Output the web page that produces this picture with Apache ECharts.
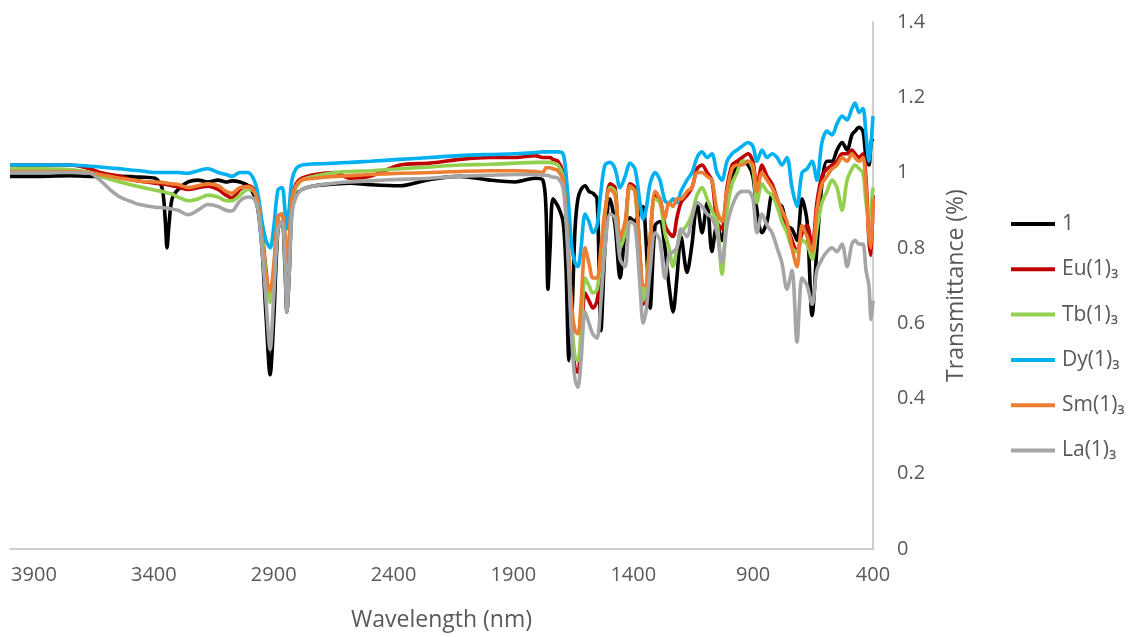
<!DOCTYPE html>
<html>
<head>
<meta charset="utf-8">
<script src="https://cdn.jsdelivr.net/npm/echarts@6/dist/echarts.min.js"></script>
<style>html,body{margin:0;padding:0;background:#fff}#c{width:1136px;height:637px}</style>
</head>
<body>
<div id="c"></div>
<script>
const wavenumbers = [4000,3875,3750,3666,3625,3583,3541,3487,3458,3395,3366,3353,3345,3337,3324,3299,3257,3216,3174,3132,3099,3074,3041,3007,2982,2965,2949,2932,2915,2899,2882,2865,2853,2845,2836,2824,2807,2782,2728,2644,2582,2498,2373,2248,2123,1998,1893,1810,1777,
1764,1756,1747,1735,1714,1693,1681,1668,1656,1643,1631,1618,1601,1585,1568,1551,1535,1518,1497,1476,1455,1434,1414,1393,1372,1359,1347,1330,1309,1289,1268,1251,1234,1218,1201,1176,1155,1134,1113,1092,1072,1051,1030,1009,988,967,946,921,901,884,863,842,821,800,780,759,738,717,696,675,654,634,613,592,571,550,529,508,488,475,458,442,429,417,408,400];

const ligand = [0.99,0.99,0.992,0.99,0.99,0.99,0.99,0.989,0.988,0.985,0.96,0.88,0.80,0.86,0.93,0.955,0.975,0.98,0.975,0.98,0.975,0.978,0.975,0.965,0.94,0.90,0.80,0.62,0.463,0.62,0.85,0.87,0.75,0.63,0.72,0.90,0.94,0.955,0.965,0.97,0.972,0.968,0.965,0.982,0.99,0.98,0.975,0.985,0.98,
0.90,0.69,0.80,0.93,0.91,0.87,0.75,0.50,0.62,0.85,0.93,0.955,0.965,0.95,0.945,0.93,0.58,0.80,0.93,0.86,0.72,0.84,0.88,0.87,0.90,0.91,0.82,0.64,0.86,0.87,0.80,0.70,0.63,0.72,0.83,0.735,0.81,0.92,0.84,0.92,0.79,0.86,0.82,0.92,0.98,1.02,1.03,1.02,0.99,0.90,0.84,0.87,0.94,0.92,0.91,0.86,0.85,0.82,0.93,0.87,0.62,0.80,0.97,1.03,1.03,1.06,1.08,1.06,1.10,1.11,1.12,1.11,1.04,1.02,1.08,1.09];

const eu = [1.02,1.02,1.02,1.01,1.0,0.995,0.99,0.98,0.977,0.972,0.97,0.969,0.968,0.967,0.965,0.962,0.955,0.96,0.964,0.955,0.94,0.933,0.955,0.965,0.955,0.93,0.85,0.74,0.66,0.74,0.88,0.89,0.82,0.74,0.80,0.93,0.97,0.985,0.995,1.0,0.985,0.99,1.02,1.025,1.035,1.04,1.04,1.045,1.04,
1.04,1.04,1.04,1.035,1.03,1.0,0.92,0.75,0.58,0.48,0.47,0.55,0.68,0.66,0.64,0.66,0.75,0.88,0.97,0.96,0.80,0.85,0.97,0.96,0.78,0.65,0.68,0.82,0.94,0.93,0.86,0.84,0.83,0.88,0.92,0.94,0.96,1.01,1.02,1.0,0.98,0.87,0.85,0.96,1.02,1.03,1.04,1.05,1.03,0.96,1.02,0.99,0.97,0.93,0.89,0.86,0.82,0.79,0.84,0.86,0.80,0.92,0.99,1.01,1.02,1.03,1.05,1.05,1.06,1.05,1.04,1.05,0.98,0.82,0.78,0.94];

const tb = [1.01,1.01,1.008,1.0,0.99,0.982,0.975,0.966,0.962,0.953,0.95,0.948,0.946,0.945,0.943,0.935,0.925,0.93,0.94,0.935,0.925,0.925,0.94,0.955,0.95,0.92,0.84,0.73,0.655,0.74,0.88,0.89,0.82,0.74,0.80,0.92,0.96,0.98,0.99,1.0,1.003,1.005,1.01,1.015,1.02,1.022,1.025,1.027,1.027,
1.027,1.027,1.027,1.025,1.02,0.99,0.90,0.75,0.60,0.51,0.50,0.58,0.72,0.70,0.68,0.69,0.77,0.89,0.96,0.95,0.80,0.84,0.96,0.95,0.78,0.66,0.69,0.82,0.93,0.92,0.84,0.80,0.75,0.80,0.84,0.86,0.89,0.94,0.96,0.93,0.90,0.87,0.73,0.90,0.97,1.0,1.03,1.03,1.01,0.92,0.97,0.95,0.94,0.91,0.87,0.84,0.80,0.79,0.82,0.81,0.77,0.85,0.92,0.95,0.98,0.96,0.90,0.98,1.01,1.02,1.01,1.0,0.92,0.88,0.91,0.96];

const dy = [1.02,1.02,1.02,1.017,1.015,1.012,1.01,1.006,1.005,1.0,1.0,1.0,1.0,1.0,1.0,1.0,0.998,1.005,1.01,1.0,0.995,0.99,1.0,1.0,0.98,0.94,0.87,0.82,0.80,0.86,0.955,0.96,0.90,0.85,0.90,0.98,1.01,1.02,1.023,1.025,1.027,1.03,1.035,1.04,1.045,1.048,1.05,1.053,1.055,
1.055,1.055,1.055,1.055,1.055,1.05,1.0,0.90,0.80,0.76,0.75,0.80,0.89,0.87,0.84,0.86,0.95,1.02,1.027,1.01,0.96,0.99,1.025,1.01,0.92,0.876,0.90,0.97,1.0,0.98,0.925,0.92,0.93,0.92,0.95,0.98,1.0,1.04,1.055,1.04,1.05,1.0,0.98,1.03,1.05,1.06,1.07,1.08,1.07,1.03,1.06,1.04,1.05,1.04,1.02,1.04,0.96,0.91,1.0,1.01,1.03,0.98,1.08,1.11,1.10,1.13,1.15,1.14,1.17,1.185,1.16,1.17,1.10,1.03,1.08,1.15];

const sm = [1.003,1.003,1.003,1.0,0.995,0.99,0.985,0.98,0.977,0.975,0.974,0.973,0.972,0.971,0.97,0.968,0.96,0.965,0.97,0.965,0.95,0.945,0.96,0.962,0.95,0.92,0.82,0.72,0.685,0.76,0.885,0.89,0.83,0.76,0.82,0.93,0.965,0.98,0.985,0.99,0.992,0.995,0.998,1.0,1.003,1.005,1.005,1.003,1.0,
1.013,1.013,1.013,1.01,1.005,0.98,0.90,0.76,0.64,0.58,0.572,0.65,0.80,0.76,0.72,0.72,0.80,0.90,0.955,0.94,0.83,0.87,0.965,0.95,0.78,0.70,0.70,0.82,0.95,0.93,0.88,0.92,0.91,0.93,0.93,0.95,0.96,1.0,1.0,0.99,0.98,0.90,0.87,0.95,1.01,1.02,1.02,1.03,1.02,0.95,1.0,0.98,0.96,0.93,0.90,0.87,0.80,0.75,0.86,0.83,0.79,0.90,0.97,0.99,1.01,1.02,1.04,1.03,1.05,1.04,1.03,1.04,0.96,0.83,0.80,0.93];

const la = [1.0,1.0,1.0,0.998,0.98,0.955,0.935,0.921,0.915,0.908,0.907,0.906,0.906,0.905,0.903,0.9,0.888,0.9,0.915,0.91,0.9,0.898,0.925,0.935,0.93,0.9,0.8,0.66,0.53,0.68,0.85,0.87,0.76,0.63,0.72,0.89,0.935,0.955,0.965,0.972,0.975,0.978,0.982,0.985,0.99,0.993,0.995,0.995,0.993,
0.993,0.993,0.99,0.988,0.985,0.96,0.88,0.72,0.55,0.45,0.43,0.50,0.63,0.60,0.57,0.56,0.66,0.80,0.89,0.88,0.77,0.75,0.87,0.86,0.70,0.60,0.63,0.74,0.84,0.82,0.72,0.78,0.79,0.80,0.85,0.83,0.88,0.92,0.91,0.89,0.88,0.84,0.76,0.86,0.91,0.94,0.95,0.95,0.93,0.84,0.89,0.86,0.84,0.80,0.76,0.69,0.74,0.55,0.72,0.70,0.65,0.74,0.77,0.79,0.80,0.79,0.81,0.75,0.81,0.82,0.81,0.81,0.74,0.70,0.61,0.66];

const seriesNames = ['1', 'Eu(1)\u2083', 'Tb(1)\u2083', 'Dy(1)\u2083', 'Sm(1)\u2083', 'La(1)\u2083'];
const seriesValues = [ligand, eu, tb, dy, sm, la];
const seriesColors = ['#000000', '#C00000', '#92D050', '#00B0F0', '#ED7D31', '#A5A5A5'];

seriesValues.forEach((arr, i) => {
  if (arr.length !== wavenumbers.length) throw new Error('length mismatch ' + seriesNames[i] + ' ' + arr.length + ' vs ' + wavenumbers.length);
});

const FONT = '"Open Sans", "DejaVu Sans", sans-serif';
const chart = echarts.init(document.getElementById('c'), null, {renderer: 'canvas'});
chart.setOption({
  animation: false,
  backgroundColor: '#ffffff',
  grid: {left: 10, right: 263, top: 22, bottom: 86, containLabel: false},
  legend: {
    orient: 'vertical',
    left: 1006,
    top: 207,
    icon: 'rect',
    itemWidth: 44,
    itemHeight: 4,
    itemGap: 21.3,
    data: seriesNames,
    textStyle: {fontFamily: FONT, fontSize: 21, color: '#595959', lineHeight: 24, padding: [0, 0, 0, 2]}
  },
  xAxis: {
    type: 'value',
    inverse: true,
    min: 400,
    max: 4000,
    interval: 500,
    name: 'Wavelength (nm)',
    nameLocation: 'middle',
    nameGap: 60,
    nameTextStyle: {fontFamily: FONT, fontSize: 23, color: '#595959'},
    axisLine: {show: true, lineStyle: {color: '#BFBFBF', width: 1.5}},
    axisTick: {show: false},
    splitLine: {show: false},
    axisLabel: {
      fontFamily: FONT, fontSize: 20, color: '#595959', margin: 16,
      formatter: v => ((v - 400) % 500 === 0 ? String(v) : '')
    }
  },
  yAxis: {
    type: 'value',
    position: 'right',
    min: 0,
    max: 1.4,
    interval: 0.2,
    name: 'Transmittance (%)',
    nameLocation: 'middle',
    nameRotate: 90,
    nameGap: 72,
    nameTextStyle: {fontFamily: FONT, fontSize: 23, color: '#595959'},
    axisLine: {show: true, lineStyle: {color: '#BFBFBF', width: 1.5}},
    axisTick: {show: false},
    splitLine: {show: false},
    axisLabel: {
      fontFamily: FONT, fontSize: 20, color: '#595959', margin: 24,
      formatter: v => String(Math.round(v * 10) / 10)
    }
  },
  series: seriesNames.map((name, i) => ({
    name: name,
    type: 'line',
    data: wavenumbers.map((w, j) => [w, seriesValues[i][j]]),
    showSymbol: false,
    symbol: 'none',
    smooth: 0.3,
    lineStyle: {color: seriesColors[i], width: 3.6},
    itemStyle: {color: seriesColors[i]},
    z: 2 + i
  }))
});
</script>
</body>
</html>
